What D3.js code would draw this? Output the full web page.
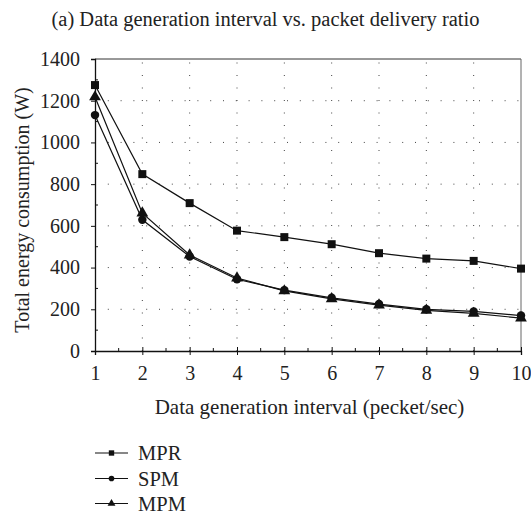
<!DOCTYPE html>
<html><head><meta charset="utf-8">
<script src="https://cdn.jsdelivr.net/npm/d3@7"></script>
<style>body{margin:0;background:#fff}svg{display:block}text{font-family:"Liberation Serif","DejaVu Serif",serif;fill:#222}</style>
</head><body><div id="c"></div>
<script>
const xValues = [1,2,3,4,5,6,7,8,9,10];
const mpr = [1275,848,709,577,546,512,469,443,432,395];
const spm = [1131,629,453,344,292,255,225,200,190,170];
const mpm = [1218,661,460,350,288,250,220,195,180,158];
const yTicks = [0,200,400,600,800,1000,1200,1400];
const seriesNames = ["MPR","SPM","MPM"];
const title = "(a) Data generation interval vs. packet delivery ratio";
const xTitle = "Data generation interval (pecket/sec)";
const yTitle = "Total energy consumption (W)";

const W=531,H=517;
const FF='"Liberation Serif","DejaVu Serif",serif';
const svg=d3.select("#c").append("svg").attr("width",W).attr("height",H);
const x=d3.scaleLinear().domain([1,10]).range([95,521]);
const y=d3.scaleLinear().domain([0,1400]).range([351,59]);

// grid
const g=svg.append("g");
g.selectAll(".vg").data(xValues.slice(1,-1)).enter().append("line")
 .attr("x1",d=>x(d)).attr("x2",d=>x(d)).attr("y1",y(0)).attr("y2",y(1400))
 .attr("stroke","#444").attr("stroke-width",1).attr("stroke-dasharray","1,11.5");
g.selectAll(".hg").data(yTicks.slice(1,-1)).enter().append("line")
 .attr("x1",x(1)).attr("x2",x(10)).attr("y1",d=>y(d)).attr("y2",d=>y(d))
 .attr("stroke","#444").attr("stroke-width",1).attr("stroke-dasharray","1,11.8");

// frame top/right
svg.append("line").attr("x1",x(1)).attr("x2",x(10)).attr("y1",y(1400)).attr("y2",y(1400)).attr("stroke","#333");
svg.append("line").attr("x1",x(10)).attr("x2",x(10)).attr("y1",y(1400)).attr("y2",y(0)).attr("stroke","#666");

// axes
const xa=svg.append("g").attr("transform",`translate(0,${y(0)})`)
 .call(d3.axisBottom(x).tickValues(xValues).tickFormat(d3.format("d")).tickSize(4).tickPadding(11));
xa.attr("font-family",FF).attr("font-size",20);
xa.select(".domain").attr("stroke","#111").attr("stroke-width",1.3);
xa.selectAll(".tick line").attr("y1",-4).attr("stroke","#111");
xa.selectAll("text").attr("fill","#222");
svg.append("g").selectAll("line").data(d3.range(1.5,10,1)).enter().append("line")
 .attr("x1",d=>x(d)).attr("x2",d=>x(d)).attr("y1",y(0)).attr("y2",y(0)-3).attr("stroke","#111");

const ya=svg.append("g").attr("transform",`translate(${x(1)},0)`)
 .call(d3.axisLeft(y).tickValues(yTicks).tickFormat(d3.format("d")).tickSize(4).tickPadding(11));
ya.attr("font-family",FF).attr("font-size",20);
ya.select(".domain").attr("stroke","#111").attr("stroke-width",1.3);
ya.selectAll(".tick line").attr("x2",-4).attr("x1",1).attr("stroke","#111");
ya.selectAll("text").attr("fill","#222");
svg.append("g").selectAll("line").data(d3.range(100,1400,200)).enter().append("line")
 .attr("x1",x(1)).attr("x2",x(1)+3).attr("y1",d=>y(d)).attr("y2",d=>y(d)).attr("stroke","#111");

// titles
svg.append("text").attr("x",265.5).attr("y",26).attr("text-anchor","middle").attr("font-size",20.5).text(title);
svg.append("text").attr("x",309.5).attr("y",414).attr("text-anchor","middle").attr("font-size",21).text(xTitle);
svg.append("text").attr("transform",`translate(29,210) rotate(-90)`).attr("text-anchor","middle").attr("font-size",20).text(yTitle);

// series
const data=[mpr,spm,mpm];
const line=d3.line().x((d,i)=>x(xValues[i])).y(d=>y(d));
const sym=[d3.symbolSquare,d3.symbolCircle,d3.symbolTriangle];
const sizes=[64,56,60];
data.forEach((s,k)=>{
  svg.append("path").datum(s).attr("d",line).attr("fill","none").attr("stroke","#111").attr("stroke-width",1.2);
  svg.append("g").selectAll("path").data(s).enter().append("path")
   .attr("transform",(d,i)=>`translate(${x(xValues[i])},${y(d)})`)
   .attr("d",d3.symbol().type(sym[k]).size(sizes[k])).attr("fill","#111");
});

// legend
const ly=[453,478.5,503.5];
seriesNames.forEach((n,k)=>{
  svg.append("line").attr("x1",95).attr("x2",128).attr("y1",ly[k]).attr("y2",ly[k]).attr("stroke","#111").attr("stroke-width",1.2);
  svg.append("path").attr("transform",`translate(111.5,${ly[k]})`).attr("d",d3.symbol().type(sym[k]).size(sizes[k]*0.45)).attr("fill","#111");
  svg.append("text").attr("x",138).attr("y",ly[k]+7).attr("font-size",20.5).text(n);
});
</script></body></html>
